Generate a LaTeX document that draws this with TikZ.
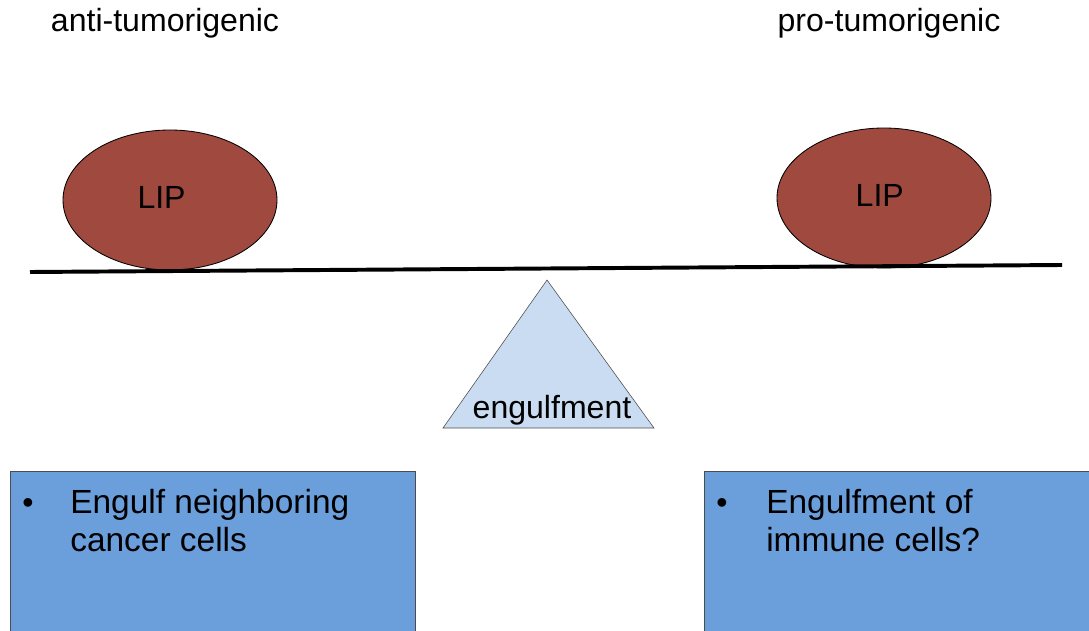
\documentclass[tikz,border=0pt]{standalone}
\usepackage{fontspec}
\setmainfont{Liberation Sans}
\usepackage{xcolor}
\usepackage{tikz}
\usetikzlibrary{positioning,shapes.geometric}
\definecolor{lipred}{HTML}{A0493F}
\definecolor{fulcrumblue}{HTML}{CADCF1}
\definecolor{panelblue}{HTML}{6A9FDC}

\begin{document}
\begin{tikzpicture}[
  font=\fontsize{22.8}{27}\selectfont,
  lip/.style={ellipse, draw, semithick, fill=lipred, inner sep=0pt,
    minimum width=5.35cm, minimum height=3.5cm},
  panel/.style={draw=black!70, fill=panelblue, anchor=north west,
    minimum height=4.5cm, inner sep=0pt},
  lab/.style={inner sep=0pt},
  item/.style={lab, anchor=base west, align=left,
    font=\fontsize{23.8}{27}\selectfont},
  beam/.style={line width=2.8pt}
]
\clip (0,0) rectangle (27.225,15.75);

\node[lab, anchor=base] (anti) at (4.125,14.95) {anti-tumorigenic};
\node[lab, anchor=base] (pro) at (22.225,14.95) {pro-tumorigenic};

\node[lip] (lipL) at (4.25,10.75) {\raisebox{4pt}{LIP}\hspace*{12pt}};
\node[lip] (lipR) at (22.1,10.8) {\raisebox{4pt}{LIP}\hspace*{6pt}};

\coordinate (beamL) at (0.75,8.95);
\coordinate (beamR) at (26.55,9.125);
\draw[beam] (beamL) -- (beamR);

% fulcrum
\coordinate (apex) at (13.675,8.75);
\coordinate (baseL) at (11.075,5.05);
\coordinate (baseR) at (16.35,5.05);
\draw[fill=fulcrumblue, draw=black!70] (apex) -- (baseL) -- (baseR) -- cycle;
\node[lab, anchor=base] (eng) at (13.8,5.3) {engulfment};

\node[panel, minimum width=10.125cm] (boxL) at (0.25,3.975) {};
\node[panel, minimum width=10cm] (boxR) at (17.6,3.975) {};

\node[lab, anchor=base] (dotL) at (0.7,2.925) {•};
\node[item] (txtL) at (1.75,1.975) {Engulf neighboring\\cancer cells};
\node[lab, anchor=base] (dotR) at (18.05,2.925) {•};
\node[item] (txtR) at (19.15,1.975) {Engulfment of\\immune cells?};
\end{tikzpicture}
\end{document}
